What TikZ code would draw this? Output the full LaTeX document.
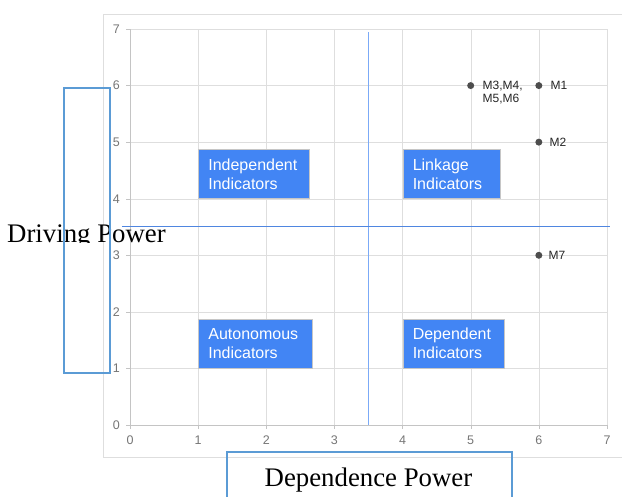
\documentclass[tikz,border=0pt]{standalone}
\usepackage{fontspec}
\setmainfont{Liberation Serif}
\newfontfamily\chartfont{Liberation Sans}
\definecolor{quadblue}{HTML}{4285F4}
\definecolor{gridgray}{HTML}{DEDEDE}
\definecolor{axisgray}{HTML}{C4C4C4}
\definecolor{ticktext}{HTML}{757575}
\definecolor{dotgray}{HTML}{4D4D4D}
\definecolor{cutblue}{HTML}{7BAAF7}
\definecolor{levelblue}{HTML}{4F86E0}
\definecolor{frameblue}{HTML}{5B9BD5}

\begin{document}
\begin{tikzpicture}[x=68.14pt,y=56.57pt,
  quadbox/.style={anchor=south west,fill=quadblue,draw=gray!45,text=white,align=left,
    minimum height=49pt,inner xsep=10pt,inner ysep=0pt,
    font=\chartfont\fontsize{16pt}{19pt}\selectfont},
  dot/.style={circle,fill=dotgray,inner sep=0pt,minimum size=7pt},
  dotlabel/.style={inner sep=0pt,text=black!85,align=left,
    font=\chartfont\fontsize{12pt}{12.5pt}\selectfont},
  ticklabel/.style={inner sep=0pt,text=ticktext,font=\chartfont\fontsize{12.5pt}{14pt}\selectfont},
  titlebox/.style={draw=frameblue,line width=1.3pt},
  title/.style={inner sep=0pt,font=\fontsize{26.8pt}{30pt}\selectfont}]
  \useasboundingbox (-130pt,-72pt) rectangle (492pt,425pt);
  % chart frame and grid
  \draw[gridgray] (492pt,411pt) -- (-27pt,411pt) -- (-27pt,-32pt) -- (492pt,-32pt);
  \foreach \i in {1,...,7} {
    \draw[gridgray] (\i,0) -- (\i,7);
    \draw[gridgray] (0,\i) -- (7,\i);
  }
  \draw[axisgray] (0,7) -- (0,0) -- (7,0);
  \foreach \i in {0,...,7} {
    \draw[axisgray] (\i,0) -- ++(0,-4pt);
    \draw[axisgray] (0,\i) -- ++(-4pt,0);
    \node[ticklabel,anchor=base] (xl\i) at ([yshift=-20pt]\i,0) {\i};
    \node[ticklabel,anchor=east] (yl\i) at ([xshift=-10pt]0,\i) {\i};
  }

  % cut-off lines
  \draw[cutblue,line width=1.2pt] (3.5,0) -- (3.5,6.95);
  \draw[levelblue,line width=1pt] (-0.12,3.5) -- (7.04,3.5);

  % quadrants
  \node[quadbox,text width=91pt] (indep) at (1,4) {Independent\\Indicators};
  \node[quadbox,text width=77pt] (link) at (4,4) {Linkage\\Indicators};
  \node[quadbox,text width=94pt] (auton) at (1,1) {Autonomous\\Indicators};
  \node[quadbox,text width=81pt] (dep) at (4,1) {Dependent\\Indicators};

  % indicators
  \node[dot] (m1) at (6,6) {};
  \node[dot] (m3) at (5,6) {};
  \node[dot] (m2) at (6,5) {};
  \node[dot] (m7) at (6,3) {};
  \node[dotlabel,anchor=west] (m1l) at ([xshift=8pt]m1.east) {M1};
  \node[dotlabel,anchor=west] (m2l) at ([xshift=7pt]m2.east) {M2};
  \node[dotlabel,anchor=west] (m7l) at ([xshift=6pt]m7.east) {M7};
  \node[dotlabel,anchor=north west] (m3l) at ([xshift=8pt,yshift=4.5pt]m3.east) {M3,M4,\\M5,M6};

  % axis titles
  \begin{scope}
    \clip (-130pt,182.5pt) rectangle (60pt,240pt);
    \node[title,anchor=base west] (drive) at (-123pt,182pt) {Driving Power};
  \end{scope}
  \draw[titlebox] (-66pt,52pt) rectangle (-20pt,337pt);
  \draw[titlebox] (97pt,-80pt) -- (97pt,-27pt) -- (382pt,-27pt) -- (382pt,-80pt);
  \node[title,anchor=base] (dependence) at (238.5pt,-62pt) {Dependence Power};
\end{tikzpicture}
\end{document}
